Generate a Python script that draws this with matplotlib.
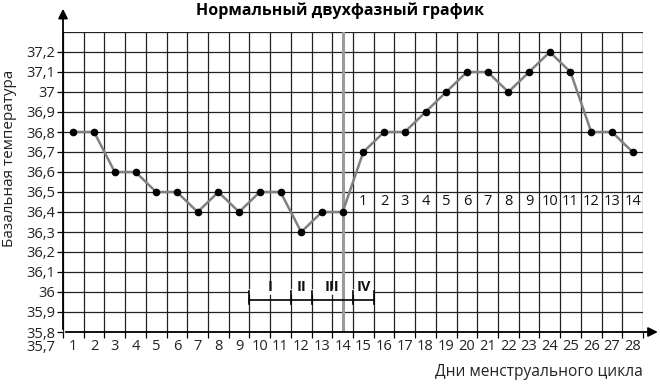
import matplotlib
matplotlib.use("Agg")
import matplotlib.pyplot as plt
import numpy as np

plt.rcParams['font.family'] = ['Open Sans', 'DejaVu Sans']

days = list(range(1, 29))
temps = [36.8, 36.8, 36.6, 36.6, 36.5, 36.5, 36.4, 36.5, 36.4, 36.5,
         36.5, 36.3, 36.4, 36.4, 36.7, 36.8, 36.8, 36.9, 37.0, 37.1,
         37.1, 37.0, 37.1, 37.2, 37.1, 36.8, 36.8, 36.7]
ytick_vals = [35.8, 35.9, 36.0, 36.1, 36.2, 36.3, 36.4, 36.5, 36.6, 36.7,
              36.8, 36.9, 37.0, 37.1, 37.2]
ytick_labels = ['35,8', '35,9', '36', '36,1', '36,2', '36,3', '36,4', '36,5',
                '36,6', '36,7', '36,8', '36,9', '37', '37,1', '37,2']
corner_label = '35,7'
second_phase_days = list(range(15, 29))
second_phase_labels = [str(i) for i in range(1, 15)]
phase_labels = ['I', 'II', 'III', 'IV']
phase_label_x = [10.5, 12, 13.5, 15]
phase_bounds = [9.5, 11.5, 12.5, 14.5, 15.5]
ovulation_day = 14

fig = plt.figure(figsize=(6.6, 3.84), dpi=100)
ax = fig.add_axes([63/660, 1-332/384, 580/660, 300/384])
ax.set_xlim(0.5, 28.5)
ax.set_ylim(35.8, 37.3)

grid_kw = dict(color='#222222', lw=0.9, zorder=1)
for x in np.arange(0.5, 28.6, 1):
    ax.axvline(x, **grid_kw)
for y in ytick_vals + [37.3]:
    ax.axhline(y, **grid_kw)

# ticks
ax.set_xticks(np.arange(0.5, 28.6, 1))
ax.set_xticklabels([])
ax.set_xticks(days, minor=True)
ax.set_xticklabels([str(d) for d in days], minor=True)
ax.tick_params(axis='x', which='major', length=4, width=0.9, direction='out')
ax.tick_params(axis='x', which='minor', length=0, pad=5, labelsize=10.5, labelcolor='#222')
ax.set_yticks(ytick_vals)
ax.set_yticklabels(ytick_labels)
ax.tick_params(axis='y', length=4, width=0.9, pad=1.5, labelsize=10.5, labelcolor='#222')
ax.annotate(corner_label, xy=(0, 35.722), xycoords=ax.get_yaxis_transform(),
            xytext=(-5.5, 0), textcoords='offset points', ha='right', va='center',
            fontsize=10.5, color='#222', annotation_clip=False)

for s in ax.spines.values():
    s.set_visible(False)

# phase bracket area: white strip over 36 line
ax.plot([phase_bounds[0], phase_bounds[-1]], [36.0, 36.0], color='white', lw=4, zorder=2,
        solid_capstyle='butt')
ax.plot([phase_bounds[0], phase_bounds[-1]], [35.96, 35.96], color='black', lw=1.2, zorder=3)
for b in phase_bounds:
    ax.plot([b, b], [35.94, 36.005], color='black', lw=1.2, zorder=3)
for lab, x in zip(phase_labels, phase_label_x):
    ax.text(x, 36.025, lab, ha='center', va='center', fontsize=10.5, fontweight='bold',
            zorder=4, color='#111')

# second phase numbering
for d, lab in zip(second_phase_days, second_phase_labels):
    ax.text(d, 36.45, lab, ha='center', va='center', fontsize=10.5, color='#111', zorder=4)

# ovulation line
ax.axvline(ovulation_day, color='#9a9a9a', lw=2.2, zorder=2)

# data
ax.plot(days, temps, color='#808080', lw=1.8, zorder=5)
ax.plot(days, temps, 'o', color='black', ms=4.5, zorder=6)

# axes arrows
ax.annotate('', xy=(29.35, 35.8), xytext=(0.5, 35.8),
            arrowprops=dict(arrowstyle='-|>', color='black', lw=1.3, mutation_scale=14),
            annotation_clip=False)
ax.annotate('', xy=(0.5, 37.43), xytext=(0.5, 35.8),
            arrowprops=dict(arrowstyle='-|>', color='black', lw=1.3, mutation_scale=14),
            annotation_clip=False)

fig.text(340/660, 1-11/384, 'Нормальный двухфазный график', ha='center', va='center',
         fontsize=11.5, fontweight='bold')
fig.text(10/660, 1-158/384, 'Базальная температура', rotation=90, ha='center', va='center',
         fontsize=11, color='#222')
fig.text(643/660, 1-372/384, 'Дни менструального цикла', ha='right', va='center',
         fontsize=11.2, color='#222')

fig.savefig('out.png', dpi=100)
